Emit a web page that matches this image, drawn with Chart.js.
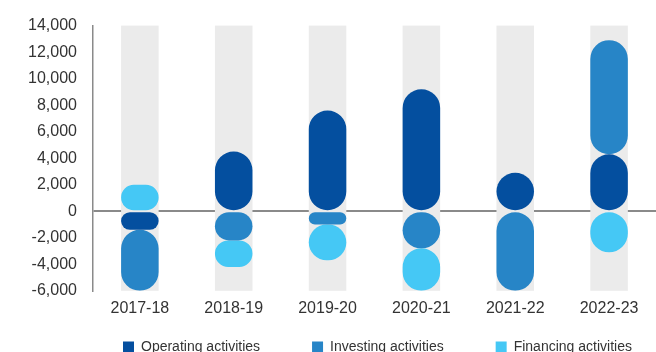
<!DOCTYPE html>
<html>
<head>
<meta charset="utf-8">
<script src="https://cdn.jsdelivr.net/npm/chart.js@4/dist/chart.umd.min.js"></script>
<style>
  html, body { margin: 0; padding: 0; background: #fff; overflow: hidden; }
  #wrap { width: 656px; height: 352px; }
</style>
</head>
<body>
<div id="wrap"><canvas id="cashChart"></canvas></div>
<script>
const years = ["2017-18", "2018-19", "2019-20", "2020-21", "2021-22", "2022-23"];

const operating = [-1400, 4500, 7600, 9200, 2900, 4300];
const investing = [-4600, -2200, -1000, -2800, -6000, 8600];
const financing = [2000, -2000, -2700, -3200, 0, -3100];

const yMin = -6000;
const yMax = 14000;
const yStep = 2000;

const FONT = "'Liberation Sans', Arial, sans-serif";
const pill = { topLeft: 100, topRight: 100, bottomLeft: 100, bottomRight: 100 };

// grey column behind each year
const bandPlugin = {
  id: "bands",
  beforeDatasetsDraw(chart) {
    const { ctx, chartArea } = chart;
    const meta = chart.getDatasetMeta(0);
    ctx.save();
    ctx.fillStyle = "#ebebeb";
    meta.data.forEach(bar => {
      ctx.fillRect(bar.x - bar.width / 2, chartArea.top, bar.width, chartArea.bottom - chartArea.top);
    });
    ctx.restore();
  }
};

// legend sits a bit right of centre and runs off the bottom edge
const legendPlace = {
  id: "legendPlace",
  afterLayout(chart) {
    const lg = chart.legend;
    const pad = lg.options.labels.padding;
    lg.left = 123 - pad;
    lg.right = 800;
    lg.top = 340 - pad;
  }
};

new Chart(document.getElementById("cashChart"), {
  type: "bar",
  data: {
    labels: years,
    datasets: [
      { label: "Operating activities", data: operating, backgroundColor: "#044f9f" },
      { label: "Investing activities", data: investing, backgroundColor: "#2785c7" },
      { label: "Financing activities", data: financing, backgroundColor: "#45c8f5" }
    ].map(ds => ({
      ...ds,
      borderRadius: pill,
      borderSkipped: false,
      categoryPercentage: 1,
      barPercentage: 0.4
    }))
  },
  options: {
    responsive: true,
    maintainAspectRatio: false,
    animation: false,
    layout: { padding: { top: 14, left: 12, right: 0, bottom: 0 } },
    plugins: {
      tooltip: { enabled: false },
      legend: {
        position: "bottom",
        align: "start",
        maxHeight: 26,
        labels: {
          boxWidth: 11,
          boxHeight: 11,
          padding: 52,
          color: "#333",
          font: { family: FONT, size: 14 }
        }
      }
    },
    scales: {
      x: {
        stacked: true,
        grid: { display: false, drawTicks: false },
        border: { display: false },
        ticks: {
          color: "#333",
          padding: 8,
          font: { family: FONT, size: 16 }
        }
      },
      y: {
        stacked: true,
        min: yMin,
        max: yMax,
        z: 1,
        border: { display: true, color: "#8a8a8a", width: 1.5 },
        grid: {
          drawTicks: false,
          lineWidth: 2,
          color: ctx => (ctx.tick && ctx.tick.value === 0 ? "#8a8a8a" : "transparent")
        },
        ticks: {
          stepSize: yStep,
          autoSkip: false,
          padding: 16,
          color: "#333",
          font: { family: FONT, size: 16 },
          callback: v => v.toLocaleString("en-US")
        }
      }
    }
  },
  plugins: [bandPlugin, legendPlace]
});
</script>
</body>
</html>
